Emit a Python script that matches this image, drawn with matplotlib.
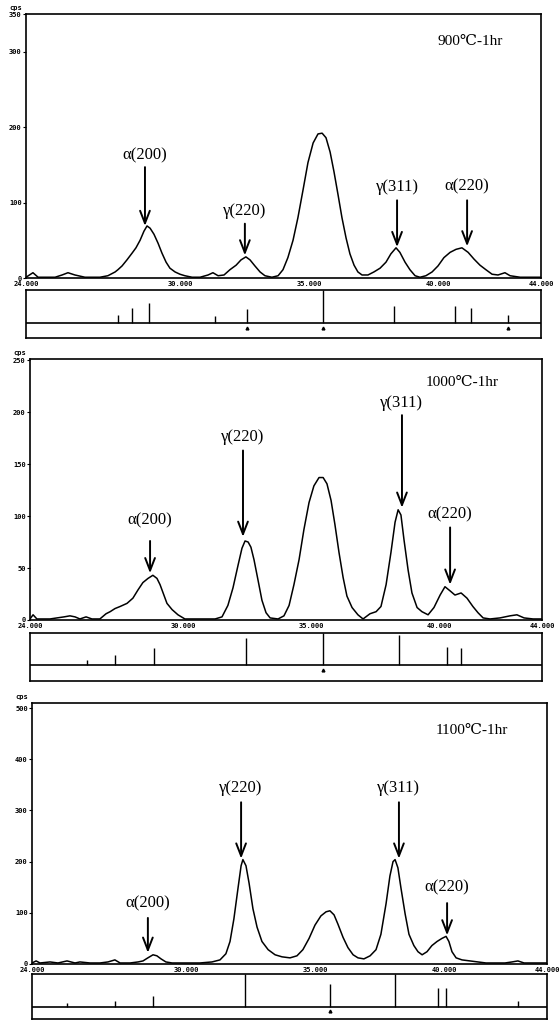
import matplotlib
matplotlib.use("Agg")
import matplotlib.pyplot as plt

# ---------------- data ----------------
tt_900 = [24.00, 24.27, 24.47, 25.13, 25.40, 25.63, 25.90, 26.29, 26.87, 27.18,
          27.46, 27.57, 27.73, 27.92, 28.12, 28.27, 28.43, 28.58, 28.70, 28.82,
          28.97, 29.13, 29.28, 29.44, 29.59, 29.79, 29.98, 30.17, 30.45, 30.76,
          31.07, 31.26, 31.46, 31.69, 31.92, 32.16, 32.35, 32.54, 32.70, 32.89,
          33.09, 33.28, 33.55, 33.79, 33.98, 34.17, 34.37, 34.56, 34.76, 34.95,
          35.15, 35.34, 35.50, 35.65, 35.81, 35.96, 36.12, 36.27, 36.43, 36.58,
          36.74, 36.89, 37.05, 37.28, 37.51, 37.75, 37.98, 38.17, 38.37, 38.52,
          38.72, 38.91, 39.11, 39.30, 39.53, 39.77, 40.00, 40.23, 40.47, 40.70,
          40.93, 41.17, 41.40, 41.63, 41.86, 42.10, 42.33, 42.60, 42.80, 43.19,
          44.00]
cps_900 = [1, 7, 1, 1, 4, 7, 4, 1, 1, 3,
           8, 11, 16, 24, 33, 40, 50, 62, 69, 66,
           58, 46, 33, 21, 13, 8, 5, 3, 1, 1,
           4, 7, 3, 4, 11, 17, 24, 28, 24, 16,
           8, 3, 1, 3, 11, 27, 50, 80, 117, 153,
           179, 191, 192, 186, 167, 141, 110, 80, 53, 32,
           17, 8, 4, 4, 8, 13, 21, 32, 40, 34,
           21, 11, 3, 1, 3, 8, 16, 27, 34, 38,
           40, 34, 25, 17, 11, 5, 4, 7, 3, 1,
           1]

tt_1000 = [24.00, 24.12, 24.27, 24.78, 25.33, 25.56, 25.76, 25.95, 26.19, 26.42,
           26.73, 26.97, 27.13, 27.32, 27.52, 27.79, 28.02, 28.22, 28.41, 28.61,
           28.80, 28.96, 29.08, 29.20, 29.35, 29.55, 29.78, 30.05, 30.64, 31.23,
           31.50, 31.73, 31.93, 32.13, 32.28, 32.40, 32.52, 32.63, 32.75, 32.91,
           33.06, 33.22, 33.38, 33.69, 33.92, 34.12, 34.31, 34.51, 34.70, 34.90,
           35.09, 35.29, 35.45, 35.60, 35.76, 35.91, 36.07, 36.23, 36.38, 36.58,
           36.81, 37.01, 37.28, 37.52, 37.71, 37.91, 38.10, 38.26, 38.38, 38.49,
           38.61, 38.77, 38.92, 39.12, 39.31, 39.55, 39.78, 40.02, 40.21, 40.41,
           40.60, 40.84, 41.07, 41.30, 41.50, 41.70, 41.97, 42.36, 42.75, 43.02,
           43.30, 43.65, 44.00]
cps_1000 = [1, 5, 1, 1, 3, 4, 3, 1, 3, 1,
            1, 6, 8, 11, 13, 16, 21, 29, 36, 40,
            43, 40, 34, 26, 16, 10, 5, 1, 1, 1,
            3, 14, 31, 53, 69, 76, 75, 70, 58, 38,
            19, 7, 2, 1, 4, 14, 34, 58, 87, 113,
            129, 137, 137, 131, 115, 92, 65, 41, 23, 12,
            5, 1, 6, 8, 13, 34, 65, 94, 106, 101,
            77, 48, 26, 12, 8, 5, 12, 24, 32, 28,
            24, 26, 21, 13, 7, 2, 1, 2, 4, 5,
            2, 1, 1]

tt_1100 = [24.00, 24.16, 24.31, 24.70, 25.01, 25.36, 25.67, 25.86, 26.25, 26.64,
           26.95, 27.22, 27.42, 27.81, 28.12, 28.31, 28.50, 28.70, 28.85, 29.01,
           29.20, 29.44, 29.94, 30.52, 30.99, 31.30, 31.53, 31.69, 31.84, 32.00,
           32.12, 32.19, 32.31, 32.43, 32.58, 32.74, 32.93, 33.17, 33.44, 33.71,
           34.02, 34.29, 34.52, 34.76, 34.99, 35.22, 35.42, 35.57, 35.73, 35.88,
           36.08, 36.27, 36.47, 36.66, 36.89, 37.13, 37.36, 37.55, 37.75, 37.90,
           38.02, 38.10, 38.21, 38.33, 38.49, 38.64, 38.83, 38.99, 39.15, 39.34,
           39.53, 39.73, 39.92, 40.08, 40.19, 40.31, 40.47, 40.70, 41.01, 41.32,
           41.63, 41.98, 42.37, 42.64, 42.87, 43.11, 43.53, 44.00]
cps_1100 = [2, 6, 2, 4, 2, 6, 2, 4, 2, 2,
            4, 8, 2, 2, 4, 6, 12, 18, 16, 10,
            4, 2, 2, 2, 4, 8, 20, 44, 88, 148,
            192, 204, 192, 158, 108, 72, 44, 28, 18, 14,
            12, 16, 28, 50, 76, 94, 102, 104, 96, 78,
            52, 32, 18, 12, 10, 16, 28, 58, 118, 172,
            200, 204, 188, 148, 98, 58, 36, 24, 18, 24,
            36, 44, 50, 54, 44, 24, 12, 8, 6, 4,
            2, 2, 2, 4, 6, 2, 2, 2]

# reference stick patterns (relative intensity)
stick_tt_900 = [27.57, 28.12, 28.78, 31.34, 32.58, 35.53, 38.29, 40.66, 41.28, 42.72]
stick_int_900 = [24, 45, 61, 21, 42, 100, 52, 52, 45, 24]
stick_tt_1000 = [26.23, 27.32, 28.84, 32.44, 35.45, 38.41, 40.29, 40.84]
stick_int_1000 = [16, 31, 53, 84, 100, 94, 56, 53]
stick_tt_1100 = [25.36, 27.22, 28.70, 32.27, 35.57, 38.10, 39.77, 40.08, 42.87]
stick_int_1100 = [12, 18, 33, 100, 70, 100, 58, 58, 18]

x_ticks = [24, 30, 35, 40, 44]
x_ticklabels = ["24.000", "30.000", "35.000", "40.000", "44.000"]

peak_labels = ["α(200)", "γ(220)", "γ(311)", "α(220)"]
titles = ["900℃-1hr", "1000℃-1hr", "1100℃-1hr"]

# ---------------- layout ----------------
W, H = 559, 1021
fig = plt.figure(figsize=(W / 100, H / 100), dpi=100)
fig.patch.set_facecolor("white")


def rect(l, r, t, b):
    return [l / W, 1 - b / H, (r - l) / W, (b - t) / H]


serif = ["Liberation Serif", "DejaVu Serif"]
tickfont = dict(family="DejaVu Sans Mono", weight="bold", size=5)

panels = [
    dict(tt=tt_900, cps=cps_900, stt=stick_tt_900, sint=stick_int_900,
         main=(26, 541, 14, 278), stick=(26, 541, 290, 338), sbot=-45,
         ylim=350, yt=[0, 100, 200, 300, 350],
         ann=[(28.62, 69, 147, 163), (32.50, 30, 72, 89),
              (38.41, 41, 103, 121), (41.13, 42, 103, 121)],
         title=(41.24, 313), marks=[32.58, 35.53, 42.72]),
    dict(tt=tt_1000, cps=cps_1000, stt=stick_tt_1000, sint=stick_int_1000,
         main=(30, 542, 359, 620), stick=(30, 542, 633, 681), sbot=-50,
         ylim=251, yt=[0, 50, 100, 150, 200, 250],
         ann=[(28.69, 45, 76, 96), (32.32, 80, 163, 176),
              (38.53, 108, 197, 209), (40.41, 34, 89, 102)],
         title=(40.88, 228), marks=[35.45]),
    dict(tt=tt_1100, cps=cps_1100, stt=stick_tt_1100, sint=stick_int_1100,
         main=(32, 547, 703, 964), stick=(32, 547, 974, 1019), sbot=-36,
         ylim=510, yt=[0, 100, 200, 300, 400, 500],
         ann=[(28.50, 22, 90, 119), (32.12, 206, 316, 344),
              (38.25, 206, 316, 344), (40.12, 56, 119, 150)],
         title=(41.09, 457), marks=[35.57]),
]

for i, p in enumerate(panels):
    ax = fig.add_axes(rect(*p["main"]))
    ax.plot(p["tt"], p["cps"], color="black", lw=1.1)
    ax.set_xlim(24, 44)
    ax.set_ylim(0, p["ylim"])
    ax.set_xticks(x_ticks)
    ax.set_xticklabels(x_ticklabels, fontdict=tickfont)
    ax.tick_params(axis="x", length=0, pad=2)
    ax.set_yticks(p["yt"])
    ax.set_yticklabels([str(v) for v in p["yt"]], fontdict=tickfont)
    ax.tick_params(axis="y", length=2, width=0.8, pad=1)
    for s in ax.spines.values():
        s.set_linewidth(1.2)
    ax.annotate("cps", xy=(0, 1), xycoords="axes fraction", xytext=(-3, 2.5),
                textcoords="offset points", ha="right", va="bottom",
                fontfamily="DejaVu Sans Mono", fontweight="bold", fontsize=5)
    for lab, (x, tip, tail, ty) in zip(peak_labels, p["ann"]):
        ax.annotate("", xy=(x, tip), xytext=(x, tail),
                    arrowprops=dict(arrowstyle="->,head_length=0.9,head_width=0.35",
                                    lw=1.4, color="black", shrinkA=0, shrinkB=0))
        ax.text(x, ty, lab, ha="center", va="center", fontsize=12, family=serif)
    ax.text(p["title"][0], p["title"][1], titles[i], ha="center", va="center",
            fontsize=11, family=serif)

    sx = fig.add_axes(rect(*p["stick"]))
    sx.vlines(p["stt"], 0, p["sint"], color="black", lw=1.0)
    sx.axhline(0, color="black", lw=1.2)
    sx.set_xlim(24, 44)
    sx.set_ylim(p["sbot"], 100)
    sx.set_xticks([])
    sx.set_yticks([])
    for s in sx.spines.values():
        s.set_linewidth(1.2)
    for m in p["marks"]:
        sx.plot([m], [p["sbot"] * 0.3], marker="^", ms=2, color="black")

fig.savefig("out.png", dpi=100, facecolor="white")
